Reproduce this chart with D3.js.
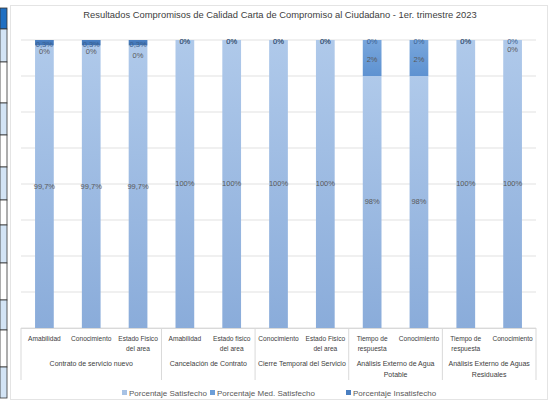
<!DOCTYPE html>
<html><head><meta charset="utf-8">
<script src="https://cdn.jsdelivr.net/npm/d3@7"></script>
<style>html,body{margin:0;padding:0;background:#fff;}svg{display:block;}</style>
</head><body>
<svg id="c" width="551" height="404"></svg>
<script>
const title = "Resultados Compromisos de Calidad Carta de Compromiso al Ciudadano - 1er. trimestre  2023";
const categories = [["Amabilidad"],["Conocimiento"],["Estado Fisico","del area"],["Amabilidad"],["Estado fisico","del area"],["Conocimiento"],["Estado Fisico","del area"],["Tiempo de","respuesta"],["Conocimiento"],["Tiempo de","respuesta"],["Conocimiento"]];
const groups = [["Contrato de servicio nuevo"],["Cancelación de Contrato"],["Cierre Temporal del Servicio"],["Análisis Externo de Agua","Potable"],["Análisis Externo de Aguas","Residuales"]];
const groupSizes = [3,2,2,2,2];
const seriesNames = ["Porcentaje Satisfecho","Porcentaje  Med. Satisfecho","Porcentaje Insatisfecho"];
const satisfecho = [99.7,99.7,99.7,100,100,100,100,98,98,100,100];
const medSatisfecho = [0,0,0,0,0,0,0,2,2,0,0];
const insatisfecho = [0.3,0.3,0.3,0,0,0,0,0,0,0,0];
const yTicks = [84,86,88,90,92,94,96,98,100];

const svg = d3.select("#c");
const font = "'Liberation Sans', Arial, sans-serif";
const fmt = v => (Math.round(v*10)/10).toString().replace(".", ",") + "%";

// spreadsheet strip on the left
const stripRows = [[8,29,"#1f6fc2"],[29,62,"#d3e4f5"],[62,103,"#ffffff"],[103,135,"#d3e4f5"],[135,167,"#ffffff"],[167,200,"#d3e4f5"],[200,225,"#ffffff"],[225,263,"#d3e4f5"],[263,300,"#ffffff"],[300,330,"#d3e4f5"],[330,367,"#ffffff"],[367,398,"#d3e4f5"]];
svg.selectAll("rect.strip").data(stripRows).join("rect")
  .attr("x",0).attr("y",d=>d[0]).attr("width",7).attr("height",d=>d[1]-d[0])
  .attr("fill",d=>d[2]).attr("stroke","#333").attr("stroke-width",0.8);

// chart area border
svg.append("rect").attr("x",10.5).attr("y",5.5).attr("width",537).attr("height",394)
  .attr("fill","#fff").attr("stroke","#e4e4e4");

const x = d3.scaleBand().domain(d3.range(categories.length)).range([21,536]).paddingInner(0.6).paddingOuter(0.3);
const y = d3.scaleLinear().domain([84,100]).range([328,40]);

// gradients
const defs = svg.append("defs");
function grad(id, c1, c2){
  const g = defs.append("linearGradient").attr("id",id).attr("x1",0).attr("y1",0).attr("x2",0).attr("y2",1);
  g.append("stop").attr("offset","0%").attr("stop-color",c1);
  g.append("stop").attr("offset","100%").attr("stop-color",c2);
}
grad("g0","#afc9ea","#8aacda");
grad("g1","#78a6dc","#5e92d1");
grad("g2","#4b80c2","#3f73b5");
const fills = ["url(#g0)","url(#g1)","url(#g2)"];
const legendColors = ["#a7c2e5","#6c9ed8","#4a7fc1"];

// gridlines
svg.append("g").selectAll("line").data(yTicks).join("line")
  .attr("x1",21).attr("x2",536).attr("y1",d=>y(d)).attr("y2",d=>y(d))
  .attr("stroke","#d9d9d9").attr("stroke-width",0.8);

// stacked bars
const rows = categories.map((c,i)=>({i, s:satisfecho[i], m:medSatisfecho[i], n:insatisfecho[i]}));
const stack = d3.stack().keys(["s","m","n"])(rows);
const clamp = v => Math.max(84, Math.min(100, v));
stack.forEach((layer,k)=>{
  svg.append("g").selectAll("rect").data(layer).join("rect")
    .attr("x",d=>x(d.data.i)).attr("width",x.bandwidth())
    .attr("y",d=>y(clamp(d[1]))).attr("height",d=>y(clamp(d[0]))-y(clamp(d[1])))
    .attr("fill",fills[k]);
});

// data labels (centered in the visible part of each segment)
const labelNudge = {1:{0:5,1:5,2:9,10:8}};
const labelG = svg.append("g").attr("font-family",font).attr("font-size","7.5px").attr("fill","#595959").attr("text-anchor","middle");
stack.forEach((layer,k)=>{
  labelG.selectAll("text.l"+k).data(layer).join("text")
    .attr("x",d=>x(d.data.i)+x.bandwidth()/2)
    .attr("y",d=>{
      const c=(y(clamp(d[0]))+y(clamp(d[1])))/2;
      const nudge=(labelNudge[k]&&labelNudge[k][d.data.i])||0;
      return c+nudge+(k>0?2:0);
    })
    .attr("dominant-baseline","middle")
    .attr("fill", k===2 ? "#3a5f8f" : "#595959")
    .text(d=>fmt(d[1]-d[0]));
});

// category axis
const axisG = svg.append("g").attr("font-family",font).attr("fill","#404040").attr("text-anchor","middle");
svg.append("line").attr("x1",21).attr("x2",536).attr("y1",328.5).attr("y2",328.5).attr("stroke","#d9d9d9");
let bounds=[0]; groupSizes.forEach(s=>bounds.push(bounds[bounds.length-1]+s));
const step = x.step();
const bx = k => 21 + k*step;
svg.append("g").selectAll("line").data(bounds).join("line")
  .attr("x1",d=>bx(d)).attr("x2",d=>bx(d)).attr("y1",328).attr("y2",380)
  .attr("stroke","#d9d9d9");
categories.forEach((lines,i)=>{
  const t = axisG.append("text").attr("font-size","6.6px").attr("x",x(i)+x.bandwidth()/2).attr("y",341);
  lines.forEach((ln,j)=>t.append("tspan").attr("x",x(i)+x.bandwidth()/2).attr("dy",j?10:0).text(ln));
});
groups.forEach((lines,g)=>{
  const cx=(bx(bounds[g])+bx(bounds[g+1]))/2;
  const t = axisG.append("text").attr("font-size","7px").attr("x",cx).attr("y",366);
  lines.forEach((ln,j)=>t.append("tspan").attr("x",cx).attr("dy",j?11:0).text(ln));
});

// title
svg.append("text").attr("x",280).attr("y",18).attr("text-anchor","middle")
  .attr("font-family",font).attr("font-size","9.4px").attr("fill","#404040").text(title);

// legend
const legX=[122,210,346];
const lg = svg.append("g").attr("font-family",font).attr("font-size","8px").attr("fill","#595959");
seriesNames.forEach((n,k)=>{
  lg.append("rect").attr("x",legX[k]).attr("y",390).attr("width",5).attr("height",5).attr("fill",legendColors[k]);
  lg.append("text").attr("x",legX[k]+7).attr("y",395.5).text(n);
});
</script>
</body></html>
